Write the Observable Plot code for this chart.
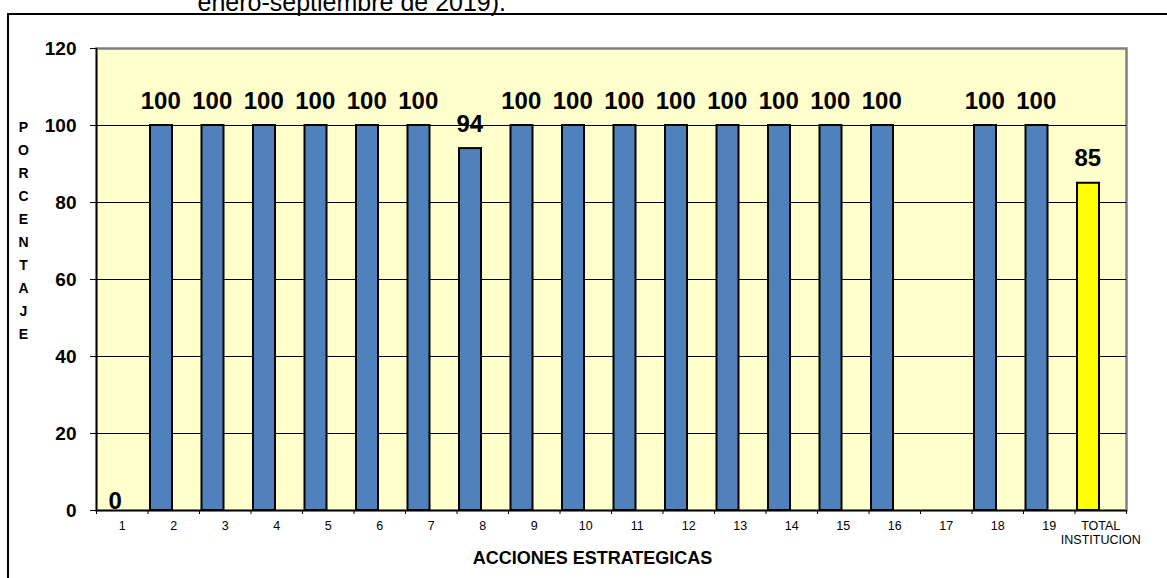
<!DOCTYPE html>
<html>
<head>
<meta charset="utf-8">
<script src="https://cdn.jsdelivr.net/npm/d3@7"></script>
<script src="https://cdn.jsdelivr.net/npm/@observablehq/plot@0.6"></script>
<style>
  html, body { margin: 0; padding: 0; background: #fff; overflow: hidden; }
  #wrap { position: relative; width: 1167px; height: 578px; overflow: hidden; font-family: "Liberation Sans", Arial, sans-serif; }
  #border { position: absolute; left: 7px; top: 13px; width: 3000px; height: 3000px; border-left: 2.5px solid #000; border-top: 2.5px solid #000; }
  #chart { position: absolute; left: 0; top: 0; }
</style>
</head>
<body>
<div id="wrap">
  <div id="border"></div>
  <div id="chart"></div>
</div>
<script>
const titleText = "enero-septiembre de 2019).";
const xTitle = "ACCIONES ESTRATEGICAS";
const yTitle = "PORCENTAJE";
const categories = ["1","2","3","4","5","6","7","8","9","10","11","12","13","14","15","16","17","18","19","TOTAL\nINSTITUCION"];
const values = [0,100,100,100,100,100,100,94,100,100,100,100,100,100,100,100,null,100,100,85];
const yTicks = [0,20,40,60,80,100,120];

const data = categories.map((c, i) => ({cat: c, value: values[i], total: c.startsWith("TOTAL")}));
const barData = data.filter(d => d.value != null && d.value > 0);
const zeroData = data.filter(d => d.value === 0);

const font = "Liberation Sans, Arial, sans-serif";

const chart = Plot.plot({
  width: 1167,
  height: 578,
  marginLeft: 96,
  marginRight: 41,
  marginTop: 48,
  marginBottom: 68,
  style: {fontFamily: font, color: "#000", background: "transparent", overflow: "visible"},
  x: {type: "band", domain: categories, padding: 0, round: false},
  y: {domain: [0, 120]},
  marks: [
    Plot.frame({fill: "#FFFFCC", stroke: "#808080", strokeWidth: 2.5}),
    Plot.gridY(yTicks.filter(t => t > 0 && t < 120), {stroke: "#000", strokeOpacity: 1, strokeWidth: 1}),
    Plot.frame({anchor: "left", stroke: "#000", strokeWidth: 1.5}),
    Plot.ruleY([0], {stroke: "#000", strokeWidth: 1.5}),
    Plot.barY(barData, {
      x: "cat", y: "value",
      fill: d => d.total ? "#FFFF00" : "#4F81BD",
      stroke: "#000", strokeWidth: 2,
      insetLeft: 2.5, insetRight: 27
    }),
    Plot.text(barData, {
      x: "cat", y: "value", text: d => String(d.value),
      dx: -13, dy: -17, lineAnchor: "bottom",
      fontSize: 24, fontWeight: "bold", fill: "#000"
    }),
    Plot.text(zeroData, {
      x: "cat", y: "value", text: d => String(d.value),
      dx: -7, dy: -2, lineAnchor: "bottom",
      fontSize: 24, fontWeight: "bold", fill: "#000"
    }),
    Plot.axisY({
      ticks: yTicks, tickSize: 6, tickPadding: 14, label: null,
      fontSize: 19, fontWeight: "bold", stroke: "#000"
    }),
    Plot.axisX({
      tickSize: 4, text: null, dx: -25.75, label: null, stroke: "#000"
    }),
    Plot.axisX({
      ticks: [categories[categories.length - 1]], tickSize: 4, text: null, dx: 25.75, label: null, stroke: "#000"
    }),
    Plot.axisX({
      tickSize: 0, tickPadding: 10, label: null, fontSize: 12.5, lineHeight: 1.12
    }),
    Plot.text([xTitle], {
      frameAnchor: "bottom", dx: -19, dy: 53, lineAnchor: "bottom",
      fontSize: 18, fontWeight: "bold", fill: "#000"
    }),
    Plot.text([yTitle.split("").join("\n")], {
      frameAnchor: "top-left", dx: -73, dy: 67.2, lineAnchor: "top", textAnchor: "middle",
      fontSize: 14, fontWeight: "bold", lineHeight: 1.64, fill: "#000"
    }),
    Plot.text([titleText], {
      frameAnchor: "top-left", dx: 101, dy: -37.5, lineAnchor: "bottom", textAnchor: "start",
      fontSize: 25, fill: "#000"
    })
  ]
});
document.getElementById("chart").appendChild(chart);
</script>
</body>
</html>
